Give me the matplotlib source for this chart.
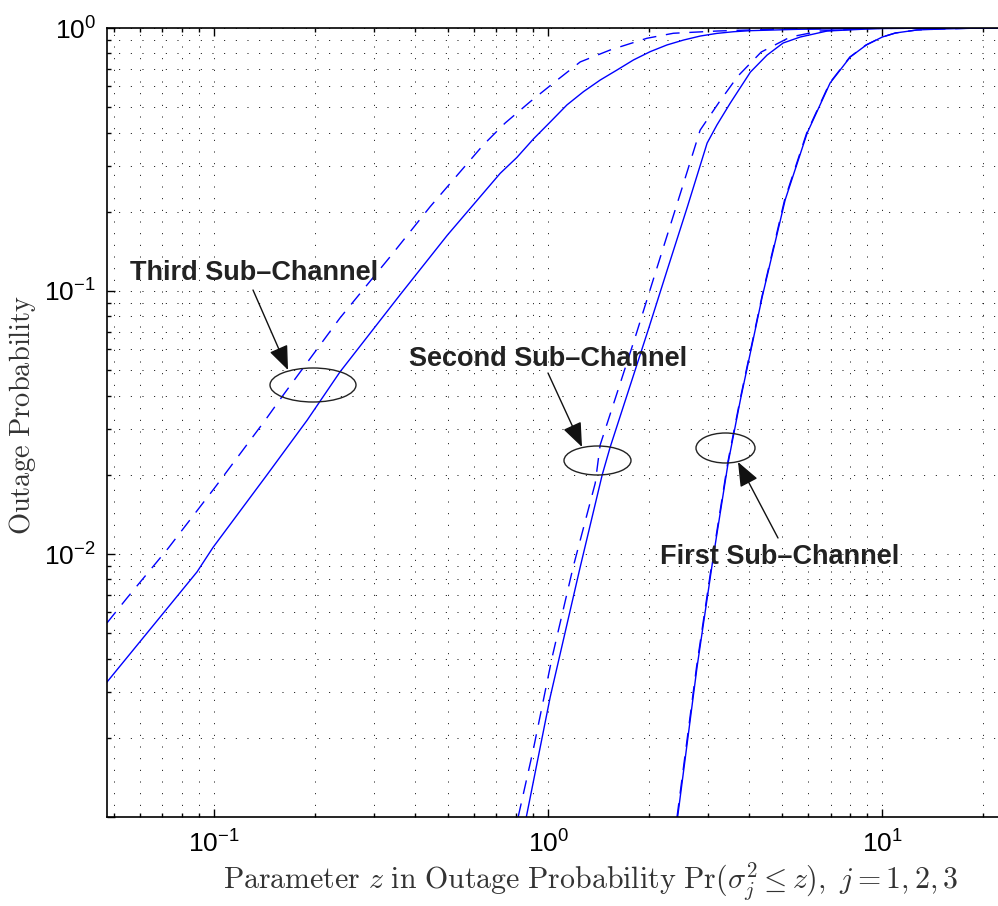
import matplotlib
matplotlib.use("Agg")
import matplotlib.pyplot as plt
from matplotlib.patches import Ellipse, FancyArrowPatch
from matplotlib.ticker import LogLocator, NullFormatter

plt.rcParams['font.family'] = ['Liberation Sans', 'DejaVu Sans']

# third sub-channel
z3_solid = [0.0478, 0.0889, 0.0993, 0.144, 0.190, 0.238, 0.360, 0.499, 0.718, 0.806, 0.904,
            1.014, 1.138, 1.276, 1.431, 1.606, 1.800, 2.020, 2.267, 2.542, 2.851, 3.20, 3.59,
            4.03, 5.68, 8.02, 12.9, 22.2]
p3_solid = [0.00326, 0.00855, 0.0106, 0.0200, 0.0323, 0.0492, 0.0966, 0.163, 0.280, 0.322, 0.379,
            0.439, 0.510, 0.573, 0.634, 0.692, 0.756, 0.813, 0.862, 0.900, 0.932, 0.954, 0.968,
            0.977, 0.989, 0.994, 0.998, 1.0]
z3_dash = [0.0478, 0.0549, 0.0728, 0.1009, 0.1423, 0.161, 0.238, 0.336, 0.443, 0.639,
           0.743, 0.884, 1.049, 1.247, 1.533, 1.975, 2.37, 3.21, 4.95, 8.02, 22.2]
p3_dash = [0.00547, 0.00681, 0.0105, 0.0180, 0.0323, 0.0402, 0.0789, 0.1347, 0.209, 0.359,
           0.435, 0.525, 0.625, 0.743, 0.825, 0.914, 0.955, 0.974, 0.991, 0.996, 1.0]

# second sub-channel
z2_solid = [0.86, 1.014, 1.247, 1.451, 1.533, 1.992, 2.27, 2.61, 2.99, 3.20, 3.51, 4.03,
            4.52, 5.05, 5.68, 6.84, 9.86, 22.2]
p2_solid = [0.001, 0.00286, 0.00893, 0.0200, 0.0255, 0.0711, 0.120, 0.209, 0.365, 0.428,
            0.519, 0.680, 0.789, 0.877, 0.924, 0.974, 0.997, 1.0]
z2_dash = [0.813, 0.902, 1.028, 1.188, 1.383, 1.431, 1.822, 2.12, 2.52, 2.85, 3.25, 3.70,
           4.34, 5.30, 6.52, 9.2, 22.2]
p2_dash = [0.001, 0.0018, 0.00406, 0.00893, 0.0186, 0.0260, 0.0668, 0.1234, 0.248, 0.409,
           0.523, 0.657, 0.810, 0.924, 0.974, 0.996, 1.0]

# first sub-channel (solid and dashed nearly coincide)
z1_solid = [2.44, 2.79, 3.12, 3.46, 3.76, 4.37, 5.12, 5.96, 6.98, 8.02, 8.96, 10.0, 10.94,
            12.7, 14.9, 17.9, 22.2]
p1_solid = [0.001, 0.00372, 0.00975, 0.0224, 0.0385, 0.0949, 0.222, 0.399, 0.618, 0.776,
            0.862, 0.924, 0.957, 0.983, 0.991, 0.997, 1.0]
z1_dash = [2.43, 2.78, 3.11, 3.45, 3.75, 4.36, 5.10, 5.94, 6.96, 8.0, 8.94, 10.0, 10.94,
           12.7, 14.9, 17.9, 22.2]
p1_dash = [0.001, 0.00372, 0.00975, 0.0224, 0.0385, 0.0949, 0.222, 0.399, 0.618, 0.776,
           0.862, 0.924, 0.957, 0.983, 0.991, 0.997, 1.0]

y_ticks = [1e-3, 1e-2, 1e-1, 1]
y_ticklabels = ['', r'$\mathdefault{10^{-2}}$', r'$\mathdefault{10^{-1}}$', r'$\mathdefault{10^{0}}$']

labels = ['Third Sub\u2013Channel', 'Second Sub\u2013Channel', 'First Sub\u2013Channel']

W, H = 998, 906


def fpx(x, y):
    # pixel (from top-left) -> figure fraction
    return (x / W, 1 - y / H)


fig = plt.figure(figsize=(W / 100, H / 100), dpi=100)
ax = fig.add_axes([107 / W, 1 - 817 / H, 1 - 107 / W, (817 - 28) / H])

blue = '#0000ff'
dash = (0, (10, 7))
ax.plot(z3_solid, p3_solid, color=blue, lw=1.0)
ax.plot(z3_dash, p3_dash, color=blue, lw=1.0, linestyle=dash)
ax.plot(z2_solid, p2_solid, color=blue, lw=1.0)
ax.plot(z2_dash, p2_dash, color=blue, lw=1.0, linestyle=dash)
ax.plot(z1_solid, p1_solid, color=blue, lw=1.0)
ax.plot(z1_dash, p1_dash, color=blue, lw=1.0, linestyle=dash)

ax.set_xscale('log')
ax.set_yscale('log')
ax.set_xlim(0.0478, 22.2)
ax.set_ylim(1e-3, 1)

ax.xaxis.set_major_locator(LogLocator(base=10, numticks=10))
ax.xaxis.set_minor_locator(LogLocator(base=10, subs=range(2, 10), numticks=20))
ax.yaxis.set_minor_locator(LogLocator(base=10, subs=range(2, 10), numticks=20))
ax.xaxis.set_minor_formatter(NullFormatter())
ax.yaxis.set_minor_formatter(NullFormatter())
ax.set_yticks(y_ticks)
ax.set_yticklabels(y_ticklabels)

ax.grid(True, which='both', color='k', linewidth=0.7, linestyle=(0, (1, 11)))
ax.set_axisbelow(True)

ax.tick_params(which='both', direction='in', top=True, right=False, width=1.0)
ax.tick_params(which='major', length=6)
ax.tick_params(which='minor', length=3)
ax.tick_params(axis='x', labelsize=19, pad=10)
ax.tick_params(axis='y', labelsize=19, pad=8)
for side in ['left', 'bottom', 'top']:
    ax.spines[side].set_linewidth(1.2)
ax.spines['right'].set_visible(False)

fig.text(591 / W, 1 - 882 / H,
         r'$\mathrm{Parameter}\ z\ \mathrm{in\ Outage\ Probability}\ '
         r'\mathrm{Pr}(\sigma_j^2 \leq z),\ j=1,2,3$',
         fontsize=21.5, color='#333333', ha='center', va='center', math_fontfamily='cm')
fig.text(23 / W, 1 - 415 / H, r'$\mathrm{Outage\ Probability}$', rotation=90,
         fontsize=20.5, color='#333333', ha='center', va='center', math_fontfamily='cm')

# annotations: text, ellipse, arrow (figure pixel positions)
text_pos = [(254, 273), (548, 359), (780, 557)]
ell_pos = [(313, 385, 86, 34), (597.5, 460.5, 67, 29), (725.5, 448, 59, 30)]
arrows = [((253, 290), (288, 370)), ((548, 373), (582, 447)), ((778, 538), (738, 462))]

for lab, (tx, ty) in zip(labels, text_pos):
    fig.text(*fpx(tx, ty), lab, fontsize=19.5, fontweight='bold', color='#222222',
             ha='center', va='center')
for cx, cy, w, h in ell_pos:
    fig.add_artist(Ellipse(fpx(cx, cy), w / W, h / H, transform=fig.transFigure,
                           fill=False, edgecolor='#222222', lw=1.0))
for (x0, y0), (x1, y1) in arrows:
    fig.add_artist(FancyArrowPatch(fpx(x0, y0), fpx(x1, y1), transform=fig.transFigure,
                                   arrowstyle='-|>,head_length=0.75,head_width=0.3',
                                   mutation_scale=20, color='#111111', lw=1.0,
                                   shrinkA=0, shrinkB=0))

fig.savefig('out.png', dpi=100)
